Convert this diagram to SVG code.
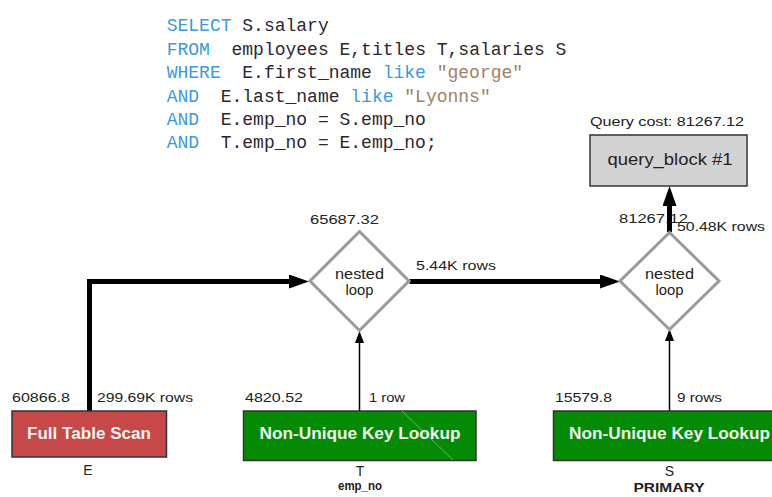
<svg xmlns="http://www.w3.org/2000/svg" width="772" height="497" viewBox="0 0 772 497">
<defs>
<style>
.sql{font-family:"Liberation Mono","DejaVu Sans Mono",monospace;font-size:18px;fill:#2d2630}
.kw{fill:#3b9bd8}
.str{fill:#a08066}
.lbl{font-family:"Liberation Sans",Arial,sans-serif;font-size:13px;fill:#222}
.cap{font-family:"Liberation Sans",Arial,sans-serif;font-size:14px;fill:#222;text-anchor:middle}
.capb{font-family:"Liberation Sans",Arial,sans-serif;font-size:13px;font-weight:bold;fill:#222;text-anchor:middle}
.boxt{font-family:"Liberation Sans",Arial,sans-serif;font-size:16px;font-weight:bold;fill:#eef3ee;text-anchor:middle}
.nl{font-family:"Liberation Sans",Arial,sans-serif;font-size:14px;fill:#222;text-anchor:middle}
.dia{fill:#fff;stroke:#9a9a9a;stroke-width:3}
.op{stroke:#333;stroke-width:1.5}
.thick{fill:none;stroke:#000;stroke-width:5;stroke-linejoin:miter}
.thin{fill:none;stroke:#000;stroke-width:1.5}
</style>
<marker id="big" markerUnits="userSpaceOnUse" viewBox="0 -7 20 14" markerWidth="20" markerHeight="14" refX="0" refY="0" orient="auto">
<path d="M0,-7 L20,0 L0,7 z" fill="#000"/>
</marker>
<marker id="small" markerUnits="userSpaceOnUse" viewBox="0 -4.5 12 9" markerWidth="12" markerHeight="9" refX="0" refY="0" orient="auto">
<path d="M0,-4.5 L12,0 L0,4.5 z" fill="#000"/>
</marker>
</defs>
<rect width="772" height="497" fill="#fff"/>

<g id="sql" class="sql">
<text x="166.7" y="31"><tspan class="kw">SELECT</tspan><tspan x="242.3">S.salary</tspan></text>
<text x="166.7" y="54.5"><tspan class="kw">FROM</tspan><tspan x="231.5">employees E,titles T,salaries S</tspan></text>
<text x="166.7" y="78"><tspan class="kw">WHERE</tspan><tspan x="242.3">E.first_name </tspan><tspan x="382.7" class="kw">like</tspan><tspan x="436.7" class="str">"george"</tspan></text>
<text x="166.7" y="101.5"><tspan class="kw">AND</tspan><tspan x="220.7">E.last_name </tspan><tspan x="350.3" class="kw">like</tspan><tspan x="404.3" class="str">"Lyonns"</tspan></text>
<text x="166.7" y="125"><tspan class="kw">AND</tspan><tspan x="220.7">E.emp_no = S.emp_no</tspan></text>
<text x="166.7" y="148"><tspan class="kw">AND</tspan><tspan x="220.7">T.emp_no = E.emp_no;</tspan></text>
</g>

<g id="connectors">
<path class="thick" d="M89.5 411 V281.5 H289" marker-end="url(#big)"/>
<path class="thick" d="M409.5 281.5 H600" stroke-width="4" marker-end="url(#big)"/>
<path class="thick" d="M669.5 232 V206" marker-end="url(#big)"/>
<path class="thin" d="M359.5 411 V343" marker-end="url(#small)"/>
<path class="thin" d="M669.5 411 V341" marker-end="url(#small)"/>
<text class="lbl" x="416" y="270" textLength="80" lengthAdjust="spacingAndGlyphs">5.44K rows</text>
<text class="lbl" x="677" y="231" textLength="88" lengthAdjust="spacingAndGlyphs">50.48K rows</text>
<text class="lbl" x="97" y="402" textLength="96" lengthAdjust="spacingAndGlyphs">299.69K rows</text>
<text class="lbl" x="369" y="402" textLength="36" lengthAdjust="spacingAndGlyphs">1 row</text>
<text class="lbl" x="677" y="402" textLength="45" lengthAdjust="spacingAndGlyphs">9 rows</text>
</g>

<g id="query_block">
<text class="lbl" x="590" y="126" textLength="154" lengthAdjust="spacingAndGlyphs">Query cost: 81267.12</text>
<rect x="590" y="135" width="157" height="51" fill="#d3d3d3" stroke="#333" stroke-width="1.5"/>
<text x="670" y="165" font-family="Liberation Sans, Arial, sans-serif" font-size="17" fill="#222" text-anchor="middle" textLength="125" lengthAdjust="spacingAndGlyphs">query_block #1</text>
</g>

<g id="nested_loop_1">
<polygon class="dia" points="359.5,231.5 409,281 359.5,330.5 310,281"/>
<text class="nl" x="359.5" y="278.8" textLength="49" lengthAdjust="spacingAndGlyphs">nested</text>
<text class="nl" x="359.5" y="294.6" textLength="28" lengthAdjust="spacingAndGlyphs">loop</text>
<text class="lbl" x="310" y="224" textLength="69" lengthAdjust="spacingAndGlyphs">65687.32</text>
</g>

<g id="nested_loop_2">
<polygon class="dia" points="669.5,232.5 719,281 669.5,329.5 620,281"/>
<text class="nl" x="669.5" y="278.8" textLength="49" lengthAdjust="spacingAndGlyphs">nested</text>
<text class="nl" x="669.5" y="294.6" textLength="28" lengthAdjust="spacingAndGlyphs">loop</text>
<text class="lbl" x="619" y="223" textLength="69" lengthAdjust="spacingAndGlyphs">81267.12</text>
</g>

<g id="full_table_scan_E">
<rect class="op" x="12" y="411" width="154.5" height="46" fill="#c64848"/>
<text class="boxt" x="89" y="439" textLength="124" lengthAdjust="spacingAndGlyphs">Full Table Scan</text>
<text class="lbl" x="12" y="402" textLength="58" lengthAdjust="spacingAndGlyphs">60866.8</text>
<text class="cap" x="88" y="475">E</text>
</g>

<g id="lookup_T">
<rect class="op" x="243.5" y="411" width="232.5" height="49.5" fill="#058a05"/>
<line x1="402" y1="411" x2="453" y2="460" stroke="#7fc07f" stroke-width="0.8"/>
<text class="boxt" x="360" y="439" textLength="201" lengthAdjust="spacingAndGlyphs">Non-Unique Key Lookup</text>
<text class="lbl" x="245" y="402" textLength="58" lengthAdjust="spacingAndGlyphs">4820.52</text>
<text class="cap" x="360" y="476">T</text>
<text class="capb" x="360" y="490" textLength="44" lengthAdjust="spacingAndGlyphs">emp_no</text>
</g>

<g id="lookup_S">
<rect class="op" x="553.5" y="411" width="232.5" height="49.5" fill="#058a05"/>
<text class="boxt" x="669.5" y="439" textLength="201" lengthAdjust="spacingAndGlyphs">Non-Unique Key Lookup</text>
<text class="lbl" x="555" y="402" textLength="57" lengthAdjust="spacingAndGlyphs">15579.8</text>
<text class="cap" x="669.5" y="476">S</text>
<text class="capb" x="669" y="492" textLength="71" lengthAdjust="spacingAndGlyphs">PRIMARY</text>
</g>
</svg>
